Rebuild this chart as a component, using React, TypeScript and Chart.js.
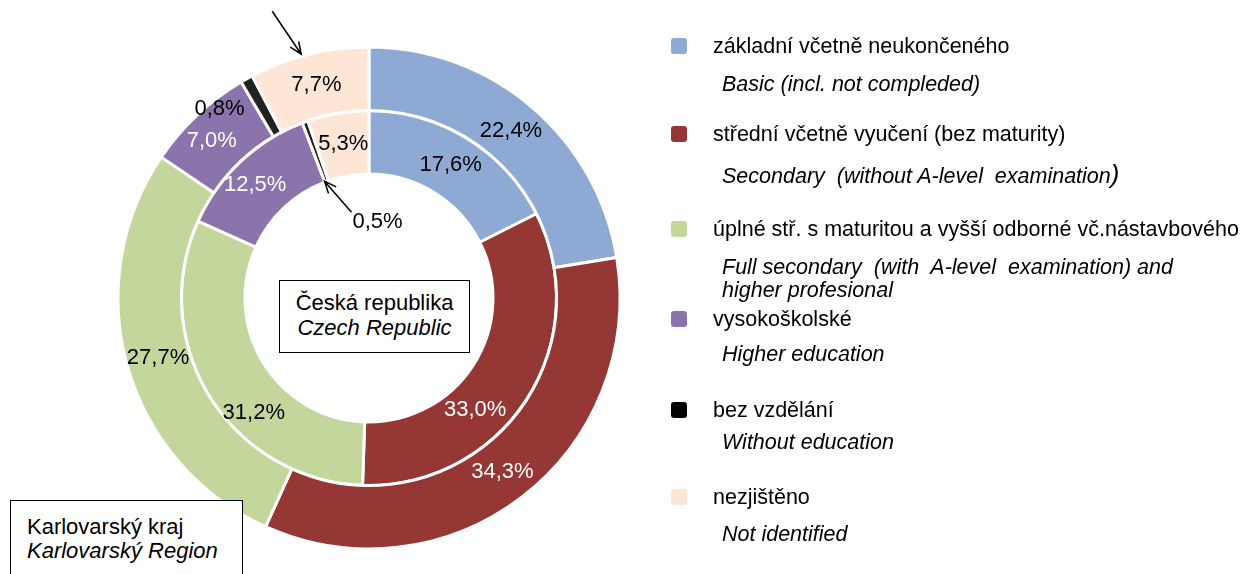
import React, { useEffect, useRef } from "react";
import { Chart, registerables } from "chart.js";

Chart.register(...registerables);

// ---- data ----
const categoriesCz = [
  "základní včetně neukončeného",
  "střední včetně vyučení (bez maturity)",
  "úplné stř. s maturitou a vyšší odborné vč.nástavbového",
  "vysokoškolské",
  "bez vzdělání",
  "nezjištěno",
];
const categoriesEn = [
  ["Basic (incl. not compleded)"],
  ["Secondary  (without A-level  examination", ")"],
  ["Full secondary  (with  A-level  examination) and", "higher profesional"],
  ["Higher education"],
  ["Without education"],
  ["Not identified"],
];
const karlovarskyValues = [22.4, 34.3, 27.7, 7.0, 0.8, 7.7]; // outer ring
const czechValues = [17.6, 33.0, 31.2, 12.5, 0.5, 5.3]; // inner ring
const ringTitles = [
  ["Karlovarský kraj", "Karlovarský Region"],
  ["Česká republika", "Czech Republic"],
];

// ---- styles ----
const colors = ["#8EA9D4", "#953735", "#C3D69B", "#8B74AC", "#222222", "#FDE6D6"];
const labelColors = [
  ["#000", "#fff", "#000", "#fff", "#000", "#000"],
  ["#000", "#fff", "#000", "#fff", "#000", "#000"],
];
const FONT = '"Liberation Sans", Arial, sans-serif';
const fmt = (v: number) => v.toFixed(1).replace(".", ",") + "%";

// label nudges (pixels) [ring-index]
const labelShift: Record<string, [number, number]> = {
  "0-3": [-7, 3],
  "1-1": [-25, 28],
  "1-2": [17, 33],
  "1-3": [-7, 0],
};

function arrow(ctx: CanvasRenderingContext2D, x1: number, y1: number, x2: number, y2: number) {
  ctx.beginPath();
  ctx.moveTo(x1, y1);
  ctx.lineTo(x2, y2);
  const a = Math.atan2(y2 - y1, x2 - x1);
  const L = 13;
  ctx.moveTo(x2 - L * Math.cos(a - 0.4), y2 - L * Math.sin(a - 0.4));
  ctx.lineTo(x2, y2);
  ctx.lineTo(x2 - L * Math.cos(a + 0.4), y2 - L * Math.sin(a + 0.4));
  ctx.stroke();
}

const labelPlugin = {
  id: "sliceLabels",
  afterDatasetsDraw(chart: any) {
    const ctx: CanvasRenderingContext2D = chart.ctx;
    ctx.save();
    ctx.font = `22px ${FONT}`;
    ctx.textAlign = "center";
    ctx.textBaseline = "middle";
    ctx.strokeStyle = "#000";
    ctx.lineWidth = 1.5;
    chart.data.datasets.forEach((ds: any, di: number) => {
      const meta = chart.getDatasetMeta(di);
      meta.data.forEach((arc: any, i: number) => {
        const { x, y, startAngle, endAngle, innerRadius, outerRadius } = arc.getProps(
          ["x", "y", "startAngle", "endAngle", "innerRadius", "outerRadius"],
          true
        );
        const text = fmt(ds.data[i]);
        const mid = (startAngle + endAngle) / 2;
        if (i === 4 && di === 0) {
          // tiny outer slice: label beside it
          const a = mid - (10.3 * Math.PI) / 180;
          const r = outerRadius - 8;
          ctx.fillStyle = "#000";
          ctx.fillText(text, x + r * Math.cos(a) + 5, y + r * Math.sin(a) - 2);
          return;
        }
        if (i === 4 && di === 1) {
          // tiny inner slice: arrow + label in the hole
          const tx = x + (innerRadius + 1) * Math.cos(startAngle);
          const ty = y + (innerRadius + 1) * Math.sin(startAngle);
          arrow(ctx, tx + 27, ty + 31, tx, ty);
          ctx.fillStyle = "#000";
          ctx.fillText(text, tx + 53, ty + 41);
          return;
        }
        if (i === 5 && di === 0) {
          const a = startAngle + 0.44 * (endAngle - startAngle);
          const tx = x + (outerRadius + 2) * Math.cos(a);
          const ty = y + (outerRadius + 2) * Math.sin(a);
          arrow(ctx, tx - 29, ty - 43, tx, ty);
        }
        const r = (innerRadius + outerRadius) / 2;
        const sh = labelShift[`${di}-${i}`] || [0, 0];
        ctx.fillStyle = labelColors[di][i];
        ctx.fillText(text, x + r * Math.cos(mid) + sh[0], y + r * Math.sin(mid) + sh[1]);
      });
    });
    ctx.restore();
  },
};

// ---- layout ----
const legendMainY = [46, 134, 229, 319, 410, 497];
const legendSubY = [85, 175, 268, 355, 443, 535];

export default function App() {
  const ref = useRef<HTMLCanvasElement | null>(null);
  useEffect(() => {
    if (!ref.current) return;
    const chart = new Chart(ref.current, {
      type: "doughnut",
      data: {
        labels: categoriesCz,
        datasets: [
          {
            label: ringTitles[0][0],
            data: karlovarskyValues,
            backgroundColor: colors,
            borderColor: "#fff",
            borderWidth: 3,
          },
          {
            label: ringTitles[1][0],
            data: czechValues,
            backgroundColor: colors,
            borderColor: "#fff",
            borderWidth: 3,
          },
        ],
      },
      options: {
        responsive: false,
        animation: false,
        radius: 251,
        cutout: "49.4%",
        layout: { padding: { top: 22, right: 513, left: 0, bottom: 0 } },
        plugins: {
          legend: { display: false },
          tooltip: { enabled: false },
          title: { display: false },
        },
      } as any,
      plugins: [labelPlugin],
    });
    return () => chart.destroy();
  }, []);

  const textBase: React.CSSProperties = {
    position: "absolute",
    fontFamily: FONT,
    fontSize: 21.5,
    lineHeight: "24px",
    color: "#000",
    whiteSpace: "pre",
  };

  return (
    <div
      style={{
        position: "absolute",
        left: 0,
        top: 0,
        width: 1251,
        height: 574,
        overflow: "hidden",
        background: "#fff",
      }}
    >
      <canvas ref={ref} width={1251} height={574} style={{ position: "absolute", left: 0, top: 0 }} />

      {/* center box */}
      <div
        style={{
          position: "absolute",
          left: 279,
          top: 280,
          width: 191,
          height: 73,
          border: "1.5px solid #000",
          background: "#fff",
          fontFamily: FONT,
          fontSize: 22,
          lineHeight: "25px",
          textAlign: "center",
          paddingTop: 9,
          boxSizing: "border-box",
        }}
      >
        <div>{ringTitles[1][0]}</div>
        <div style={{ fontStyle: "italic" }}>{ringTitles[1][1]}</div>
      </div>

      {/* bottom-left box */}
      <div
        style={{
          position: "absolute",
          left: 10,
          top: 500,
          width: 233,
          height: 90,
          border: "1.5px solid #000",
          background: "#fff",
          fontFamily: FONT,
          fontSize: 22,
          lineHeight: "24px",
          paddingTop: 14,
          paddingLeft: 16,
          boxSizing: "border-box",
        }}
      >
        <div>{ringTitles[0][0]}</div>
        <div style={{ fontStyle: "italic" }}>{ringTitles[0][1]}</div>
      </div>

      {/* legend */}
      {categoriesCz.map((name, i) => (
        <React.Fragment key={i}>
          <div
            style={{
              position: "absolute",
              left: 671,
              top: legendMainY[i] - 8,
              width: 16,
              height: 16,
              borderRadius: 3,
              background: i === 4 ? "#000" : colors[i],
            }}
          />
          <div style={{ ...textBase, left: 713, top: legendMainY[i] - 12 }}>{name}</div>
          <div style={{ ...textBase, left: 722, top: legendSubY[i] - 12, fontStyle: "italic", lineHeight: "23px" }}>
            {i === 1 ? (
              <>
                {categoriesEn[i][0]}
                <span style={{ fontSize: 26, fontStyle: "italic" }}>{categoriesEn[i][1]}</span>
              </>
            ) : (
              categoriesEn[i].join("\n")
            )}
          </div>
        </React.Fragment>
      ))}
    </div>
  );
}
